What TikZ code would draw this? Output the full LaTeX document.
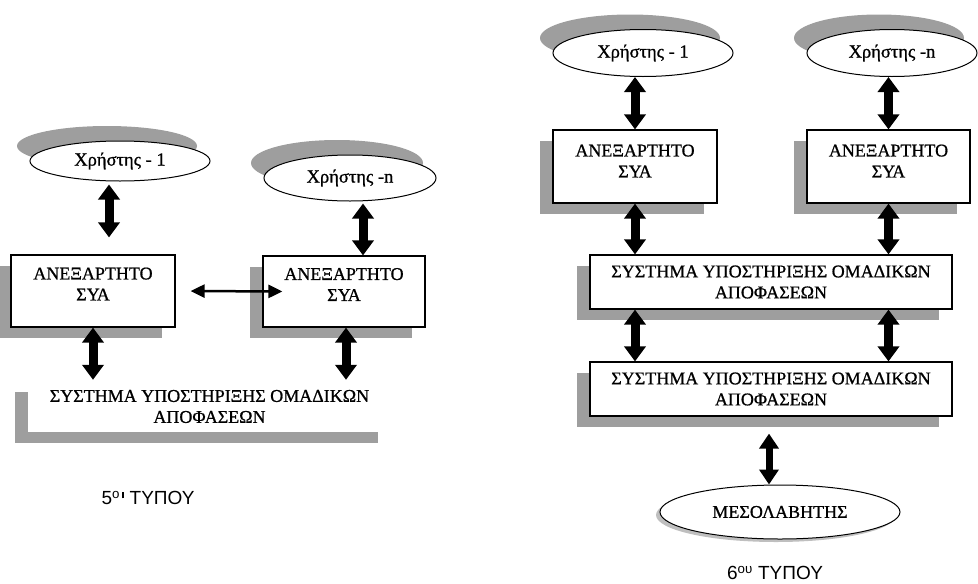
\documentclass[tikz,border=0pt]{standalone}
\usepackage{fontspec}
\setmainfont{Liberation Serif}
\newfontfamily\grfont[FakeBold=0.8]{Liberation Serif}
\newfontfamily\labfont{Liberation Sans}
\usetikzlibrary{arrows.meta,shapes.geometric,shadows}
\newcommand\bxfont{\grfont\fontsize{18}{21}\selectfont}
\newcommand\elfont{\grfont\fontsize{18.5}{22}\selectfont}
\begin{document}
\begin{tikzpicture}[x=1pt,y=-1pt,
  boxshadow/.style={general shadow={fill=black!38, shadow xshift=-13pt, shadow yshift=-11pt}},
  ellshadow/.style={general shadow={fill=black!38, shadow xshift=-13pt, shadow yshift=15pt}},
  syabox/.style={draw, line width=1.2pt, fill=white, rectangle, inner sep=0pt, align=center, font=\bxfont, boxshadow},
  sysbox/.style={syabox, minimum width=362pt, minimum height=54pt},
  ellnode/.style={draw, line width=1pt, fill=white, ellipse, inner sep=0pt, font=\elfont},
  bigarrow/.style={line width=9pt, {Triangle[length=15pt,width=21pt]}-{Triangle[length=15pt,width=21pt]}},
  midarrow/.style={line width=7pt, {Triangle[length=15pt,width=19pt]}-{Triangle[length=15pt,width=19pt]}},
  thinarrow/.style={line width=2.5pt, {Triangle[length=14pt,width=13pt]}-{Triangle[length=14pt,width=13pt]}},
  lab/.style={font=\labfont\fontsize{19}{23}\selectfont, inner sep=0pt}
]
\useasboundingbox (0,0) rectangle (978,584);

% ---------- left diagram (5th type) ----------
\node[ellnode, ellshadow, minimum width=180pt, minimum height=40pt] (u1L) at (120,161) {Χρήστης - 1};
\node[ellnode, ellshadow, minimum width=172pt, minimum height=46pt] (unL) at (350,178) {Χρήστης -n};
\node[syabox, minimum width=164pt, minimum height=72pt] (b1L) at (93,291) {ΑΝΕΞΑΡΤΗΤΟ\\ΣΥΑ\rule[-14pt]{0pt}{14pt}};
\node[syabox, minimum width=162pt, minimum height=71pt] (bnL) at (344,291.5) {ΑΝΕΞΑΡΤΗΤΟ\\ΣΥΑ\rule[-14pt]{0pt}{14pt}};
\node[rectangle, fill=white, boxshadow, inner sep=0pt, align=center, font=\bxfont,
      minimum width=363pt, minimum height=51pt] (sysL) at (209.5,406.5)
      {ΣΥΣΤΗΜΑ ΥΠΟΣΤΗΡΙΞΗΣ ΟΜΑΔΙΚΩΝ\\ΑΠΟΦΑΣΕΩΝ};

\coordinate (xa) at (109,0);
\coordinate (xb) at (363,0);
\coordinate (xc) at (346,0);
\draw[bigarrow, shorten <=3pt, shorten >=17pt] (u1L.south -| xa) -- (b1L.north -| xa);
\draw[bigarrow, shorten <=2pt] (unL.south -| xb) -- (bnL.north -| xb);
\draw[bigarrow, shorten >=1pt] (b1L.south) -- (b1L.south |- sysL.north);
\draw[bigarrow, shorten >=1pt] (bnL.south -| xc) -- (sysL.north -| xc);
\draw[thinarrow] ([xshift=15pt]b1L.east) -- ([xshift=20pt]bnL.west);

\node[lab] (t5) at (148,498) {5\textsuperscript{ο\,\rule{2.2pt}{6pt}} ΤΥΠΟΥ};

% ---------- right diagram (6th type) ----------
\node[ellnode, ellshadow, minimum width=180pt, minimum height=47pt] (u1R) at (643,53) {Χρήστης - 1};
\node[ellnode, ellshadow, minimum width=170pt, minimum height=47pt] (unR) at (892,53) {Χρήστης -n};
\node[syabox, minimum width=164pt, minimum height=73pt] (b1R) at (635,166.5) {ΑΝΕΞΑΡΤΗΤΟ\\ΣΥΑ\rule[-11pt]{0pt}{11pt}};
\node[syabox, minimum width=163pt, minimum height=73pt] (bnR) at (888.5,166.5) {ΑΝΕΞΑΡΤΗΤΟ\\ΣΥΑ\rule[-11pt]{0pt}{11pt}};
\node[sysbox] (s1R) at (771,282) {ΣΥΣΤΗΜΑ ΥΠΟΣΤΗΡΙΞΗΣ ΟΜΑΔΙΚΩΝ\\ΑΠΟΦΑΣΕΩΝ};
\node[sysbox] (s2R) at (771,389) {ΣΥΣΤΗΜΑ ΥΠΟΣΤΗΡΙΞΗΣ ΟΜΑΔΙΚΩΝ\\ΑΠΟΦΑΣΕΩΝ};
\node[ellnode, font=\bxfont, minimum width=240pt, minimum height=54pt,
      general shadow={fill=black!25, shadow xshift=-4pt, shadow yshift=-3pt}] (medR) at (780,512) {ΜΕΣΟΛΑΒΗΤΗΣ};

\draw[bigarrow] (u1R.south -| b1R) -- (b1R.north);
\draw[bigarrow] (unR.south -| bnR) -- (bnR.north);
\draw[bigarrow] (b1R.south) -- (s1R.north -| b1R);
\draw[bigarrow] (bnR.south) -- (s1R.north -| bnR);
\draw[bigarrow] (s1R.south -| b1R) -- (s2R.north -| b1R);
\draw[bigarrow] (s1R.south -| bnR) -- (s2R.north -| bnR);
\coordinate (xd) at (769,0);
\draw[midarrow, shorten <=17pt] (s2R.south -| xd) -- (medR.north -| xd);

\node[lab] (t6) at (775,573) {6\textsuperscript{ου} ΤΥΠΟΥ};
\end{tikzpicture}
\end{document}
